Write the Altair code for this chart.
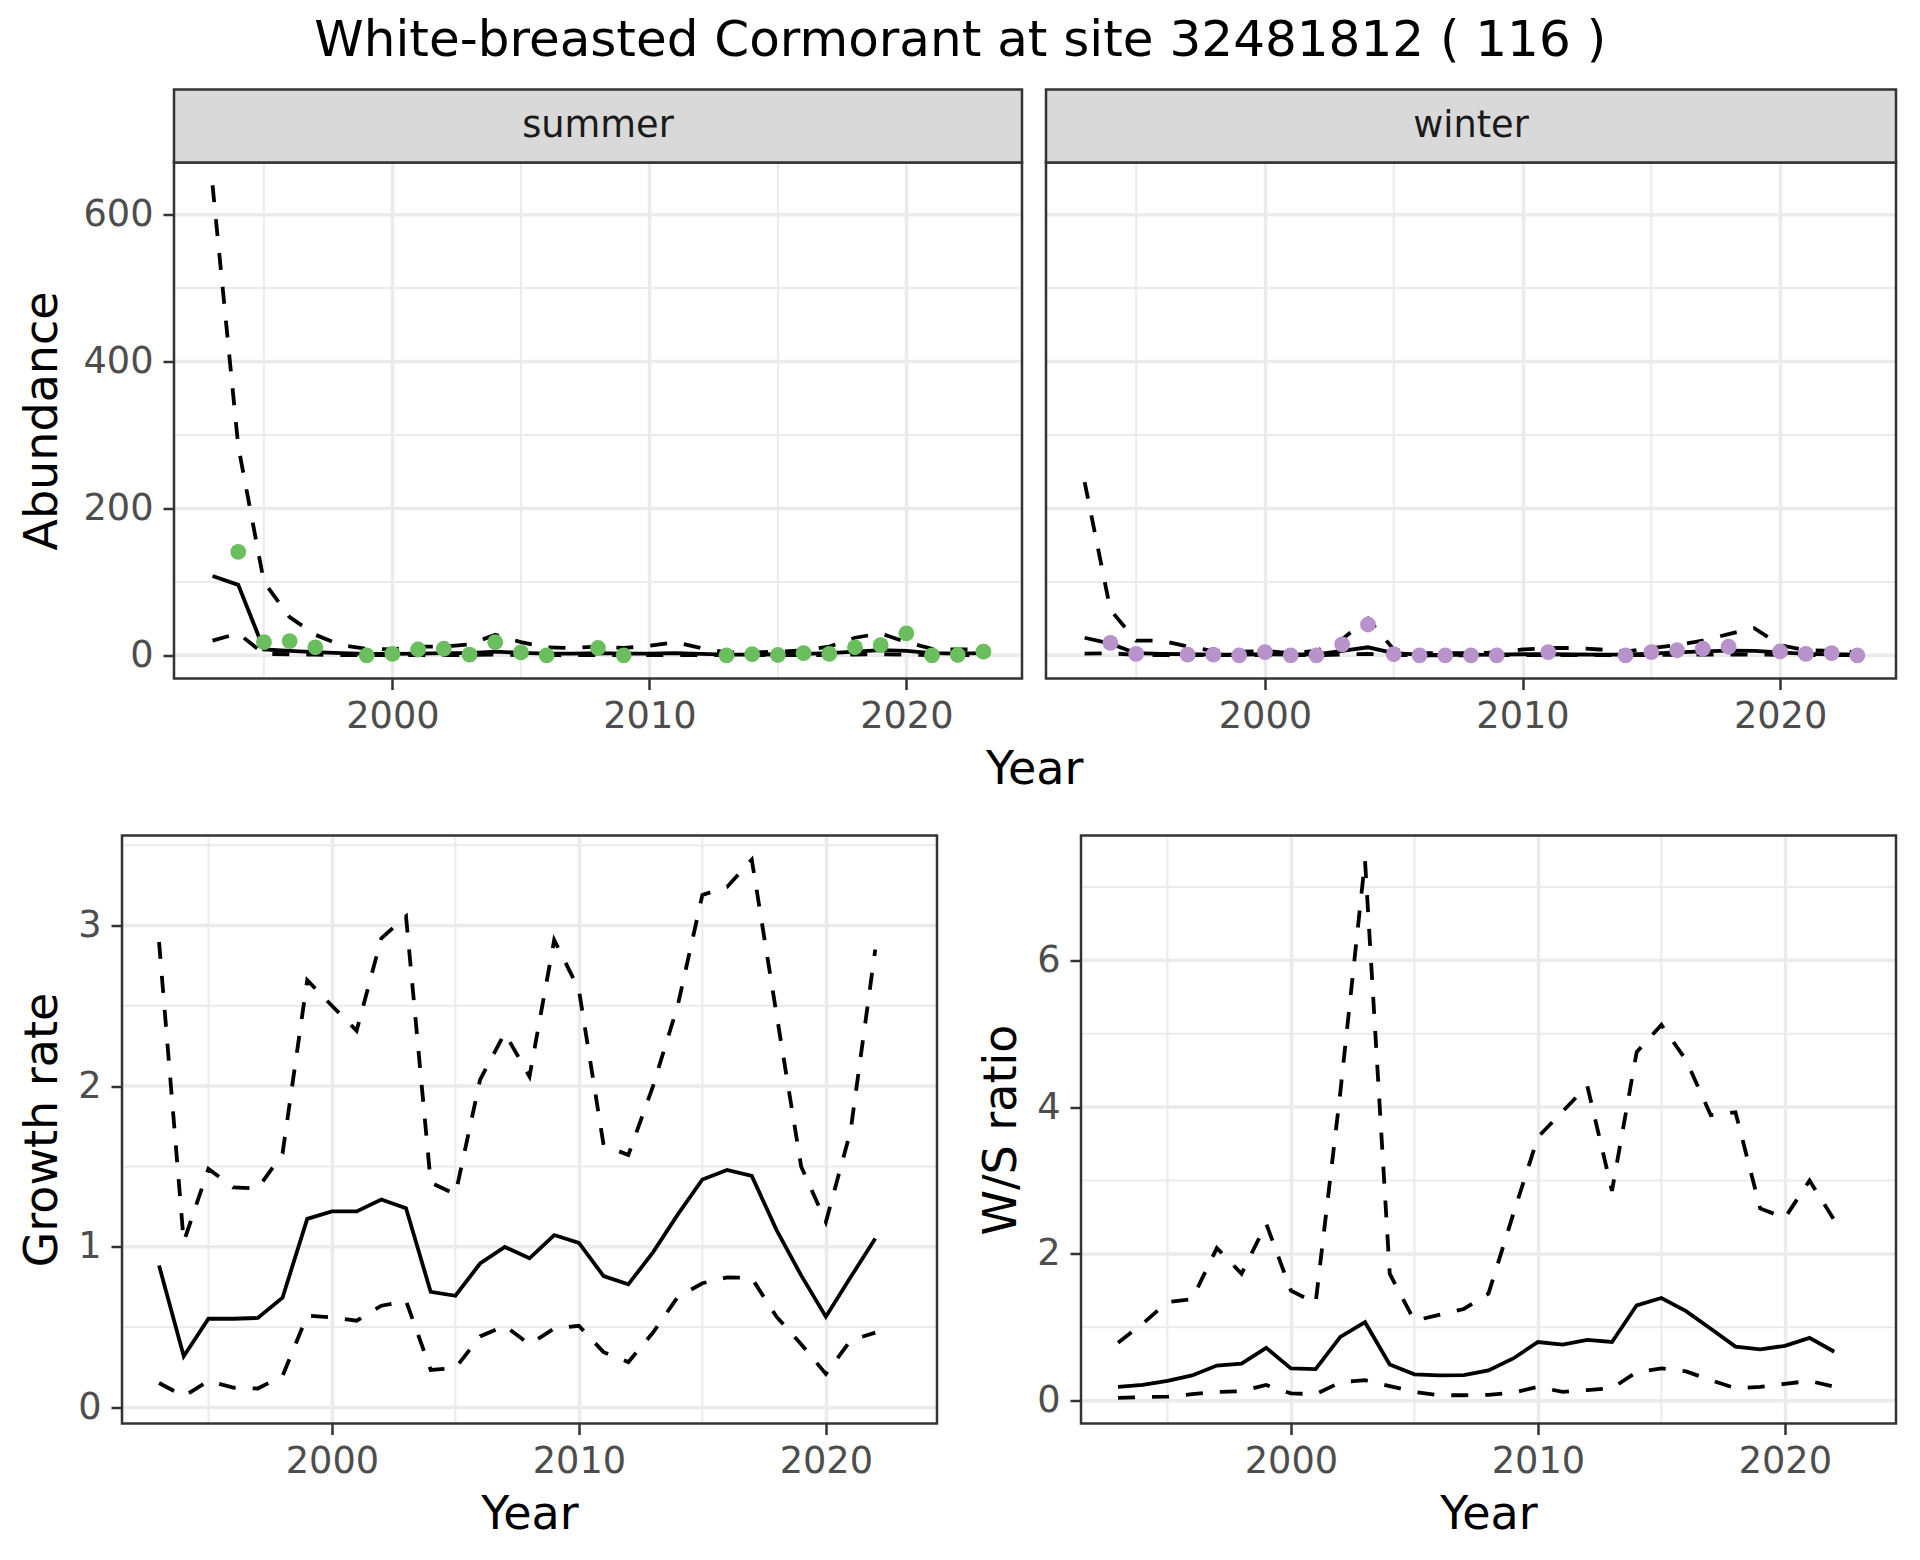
import altair as alt
import pandas as pd

FONT = "DejaVu Sans"

# ---------------- data ----------------
years = list(range(1993, 2024))
summer_est = [108, 96, 8, 6, 4.5, 3, 2, 2, 2.5, 3, 3, 5, 3.5, 2.5, 2.5, 3, 2.5, 2.5, 3, 2,
              1, 1, 1.5, 2, 3, 5, 7, 6, 3, 2.5, 3]
summer_lcl = [20, 30, 2, 1.5, 1, 0.5, 0.5, 0.5, 0.5, 0.5, 0.5, 1, 0.5, 0.3, 0.3, 0.5, 0.3, 0.3, 0.5, 0.3,
              0.2, 0.2, 0.3, 0.3, 0.5, 1, 1.5, 1, 0.5, 0.3, 0.5]
summer_ucl = [640, 285, 100, 52, 28, 14, 9, 8, 12, 12, 15, 28, 18, 11, 10, 12, 10, 13, 18, 10,
              4, 4, 5, 7, 12, 24, 30, 18, 9, 8, 8]
summer_obs_years = [1994, 1995, 1996, 1997, 1999, 2000, 2001, 2002, 2003, 2004, 2005, 2006, 2008,
                    2009, 2013, 2014, 2015, 2016, 2017, 2018, 2019, 2020, 2021, 2022, 2023]
summer_obs = [141, 18, 19.5, 11, 0, 2, 8, 9, 1, 18, 4, 0, 10, 0, 0, 1.5, 0.5, 3, 2, 11, 14, 30, 0, 0.5, 5]

winter_est = [24, 16, 3, 2, 1.5, 1, 1, 1.5, 1, 1.5, 6, 11, 3, 1, 0.8, 0.8, 1, 1.5, 1.5, 1.2,
              1, 1, 2.5, 4, 5.5, 6.5, 6, 4, 2, 1.5, 1]
winter_lcl = [2.5, 3, 0.5, 0.3, 0.2, 0.2, 0.2, 0.3, 0.2, 0.3, 1, 2, 0.5, 0.2, 0.1, 0.1, 0.2, 0.3, 0.3, 0.2,
              0.2, 0.2, 0.5, 0.8, 1, 1.2, 1, 0.8, 0.4, 0.3, 0.2]
winter_ucl = [236, 62, 20, 20, 12, 6, 5, 6, 3, 6, 22, 50, 8, 3, 3, 3, 4, 8, 10, 10,
              8, 5, 10, 14, 20, 29, 37, 14, 7, 6, 4]
winter_obs_years = [1994, 1995, 1997, 1998, 1999, 2000, 2001, 2002, 2003, 2004, 2005, 2006, 2007,
                    2008, 2009, 2011, 2014, 2015, 2016, 2017, 2018, 2020, 2021, 2022, 2023]
winter_obs = [17, 2, 1, 1, 0, 4.5, 0, 0, 15, 42, 1.5, 0, 0, 0, 0, 4.5, 0, 4.5, 7, 9, 11.7, 5.3, 2, 3, 0]

gr_years = list(range(1993, 2023))
growth_est = [0.884, 0.319, 0.552, 0.552, 0.557, 0.683, 1.174, 1.22, 1.22, 1.294, 1.24, 0.719,
              0.695, 0.896, 0.999, 0.928, 1.073, 1.024, 0.818, 0.766, 0.965, 1.20, 1.419, 1.478,
              1.441, 1.105, 0.822, 0.565, 0.81, 1.051]
growth_lcl = [0.152, 0.07, 0.164, 0.123, 0.118, 0.196, 0.572, 0.56, 0.54, 0.633, 0.663, 0.233,
              0.245, 0.442, 0.508, 0.393, 0.491, 0.508, 0.344, 0.282, 0.466, 0.687, 0.773, 0.81,
              0.805, 0.565, 0.393, 0.209, 0.417, 0.466]
growth_ucl = [2.897, 1.031, 1.485, 1.37, 1.363, 1.58, 2.66, 2.50, 2.345, 2.92, 3.057, 1.40,
              1.326, 2.04, 2.33, 2.06, 2.91, 2.60, 1.633, 1.571, 2.0, 2.50, 3.19, 3.24,
              3.41, 2.45, 1.50, 1.154, 1.72, 2.85]

ws_est = [0.19, 0.215, 0.27, 0.345, 0.48, 0.506, 0.72, 0.44, 0.43, 0.87, 1.07, 0.495, 0.36,
          0.345, 0.35, 0.414, 0.576, 0.80, 0.764, 0.83, 0.80, 1.30, 1.40, 1.22, 0.98, 0.737,
          0.70, 0.748, 0.856, 0.667]
ws_lcl = [0.04, 0.05, 0.055, 0.09, 0.12, 0.13, 0.215, 0.1, 0.09, 0.25, 0.28, 0.2, 0.12, 0.075,
          0.075, 0.08, 0.11, 0.19, 0.12, 0.145, 0.17, 0.39, 0.44, 0.40, 0.28, 0.17, 0.19, 0.23,
          0.27, 0.19]
ws_ucl = [0.79, 1.05, 1.345, 1.383, 2.08, 1.73, 2.41, 1.5, 1.33, 4.2, 7.36, 1.73, 1.09, 1.17,
          1.25, 1.46, 2.54, 3.59, 3.94, 4.29, 2.86, 4.75, 5.12, 4.64, 3.89, 3.93, 2.62, 2.49,
          3.0, 2.46]

x_major = [2000, 2010, 2020]
x_minor = [1995, 2005, 2015]
abund_major = [0, 200, 400, 600]
abund_minor = [100, 300, 500]
growth_major = [0, 1, 2, 3]
growth_minor = [0.5, 1.5, 2.5, 3.5]
ws_major = [0, 2, 4, 6]
ws_minor = [1, 3, 5, 7]

GREEN = "#6BBE5E"
PURPLE = "#B792CB"
BORDER = "#333333"
GRID = "#EBEBEB"


def long_df(yrs, est, lcl, ucl):
    rows = []
    for k, vals in (("est", est), ("lcl", lcl), ("ucl", ucl)):
        for y, v in zip(yrs, vals):
            rows.append({"Year": y, "value": v, "kind": k})
    return pd.DataFrame(rows)


def panel(df, pts, color, ydomain, ymajor, yminor, ytitle, xtitle, w, h,
          ylabels=True, ytitlepad=11, strip=None, lead=0):
    # lead: blank pixels to the left of the panel inside the view (used to offset the panel)
    xscale = alt.Scale(domain=[1991.5, 2024.5], nice=False, zero=False, range=[lead, lead + w])
    yscale = alt.Scale(domain=ydomain, nice=False, zero=False)
    if ylabels:
        yaxis = alt.Axis(values=ymajor, title=ytitle, titlePadding=ytitlepad, grid=False,
                         offset=-lead, format="d" if max(ymajor) >= 10 else "~g")
    else:
        yaxis = alt.Axis(values=ymajor, title=None, labels=False, ticks=False, grid=False)
    xaxis = alt.Axis(values=x_major, title=xtitle, format="d", grid=True, titlePadding=12)

    one = pd.DataFrame({"label": [strip if strip else ""]})
    layers = []
    # horizontal grid (minor, major) limited to the panel
    layers.append(
        alt.Chart(pd.DataFrame({"v": yminor})).mark_rule(color=GRID, strokeWidth=2)
        .encode(y=alt.Y("v:Q", scale=yscale, axis=yaxis), x=alt.value(lead), x2=alt.value(lead + w))
    )
    layers.append(
        alt.Chart(pd.DataFrame({"v": ymajor})).mark_rule(color=GRID, strokeWidth=3.5)
        .encode(y=alt.Y("v:Q", scale=yscale, axis=yaxis), x=alt.value(lead), x2=alt.value(lead + w))
    )
    # vertical minor grid
    layers.append(
        alt.Chart(pd.DataFrame({"v": x_minor})).mark_rule(color=GRID, strokeWidth=2)
        .encode(x=alt.X("v:Q", scale=xscale, axis=xaxis))
    )
    base = alt.Chart(df).encode(
        x=alt.X("Year:Q", scale=xscale, axis=xaxis),
        y=alt.Y("value:Q", scale=yscale, axis=yaxis),
    )
    layers.append(base.transform_filter("datum.kind != 'est'")
                  .mark_line(color="black", strokeWidth=3.8, strokeDash=[17, 17])
                  .encode(detail="kind:N"))
    layers.append(base.transform_filter("datum.kind == 'est'")
                  .mark_line(color="black", strokeWidth=3.8))
    if pts is not None:
        layers.append(
            alt.Chart(pts).mark_circle(size=250, opacity=1, color=color)
            .encode(x=alt.X("Year:Q", scale=xscale, axis=xaxis),
                    y=alt.Y("value:Q", scale=yscale, axis=yaxis))
        )
    # panel border
    layers.append(
        alt.Chart(one).mark_rect(fillOpacity=0, stroke=BORDER, strokeWidth=2.5)
        .encode(x=alt.value(lead), x2=alt.value(lead + w), y=alt.value(0), y2=alt.value(h))
    )
    if strip is not None:
        layers.append(
            alt.Chart(one).mark_rect(fill="#D9D9D9", stroke=BORDER, strokeWidth=2.5)
            .encode(x=alt.value(lead), x2=alt.value(lead + w), y=alt.value(-73), y2=alt.value(0))
        )
        layers.append(
            alt.Chart(one).mark_text(font=FONT, fontSize=36.7, color="#1A1A1A",
                                     align="center", baseline="middle")
            .encode(x=alt.value(lead + w / 2), y=alt.value(-36.5), text="label:N")
        )
    return alt.layer(*layers).properties(width=lead + w, height=h)


summer_df = long_df(years, summer_est, summer_lcl, summer_ucl)
winter_df = long_df(years, winter_est, winter_lcl, winter_ucl)
summer_pts = pd.DataFrame({"Year": summer_obs_years, "value": summer_obs})
winter_pts = pd.DataFrame({"Year": winter_obs_years, "value": winter_obs})
growth_df = long_df(gr_years, growth_est, growth_lcl, growth_ucl)
ws_df = long_df(gr_years, ws_est, ws_lcl, ws_ucl)

summer = panel(summer_df, summer_pts, GREEN, [-31.5, 671], abund_major, abund_minor,
               "Abundance", None, 848, 516, ytitlepad=16.3, strip="summer", lead=52)
winter = panel(winter_df, winter_pts, PURPLE, [-31.5, 671], abund_major, abund_minor,
               None, None, 850, 516, ylabels=False, strip="winter")
growth = panel(growth_df, None, None, [-0.1, 3.56], growth_major, growth_minor,
               "Growth rate", "Year", 815, 588)
ws = panel(ws_df, None, None, [-0.31, 7.70], ws_major, ws_minor,
           "W/S ratio", "Year", 815, 588)

top = alt.hconcat(summer, winter, spacing=20).properties(
    title=alt.TitleParams(text="Year", orient="bottom", anchor="middle", fontSize=46,
                          font=FONT, fontWeight="normal", color="black", baseline="top",
                          offset=13, dx=76)
)
bottom = alt.hconcat(growth, ws, spacing=39)

chart = alt.vconcat(top, bottom, spacing=40).properties(
    title=alt.TitleParams(text="White-breasted Cormorant at site 32481812 ( 116 )",
                          fontSize=50, font=FONT, fontWeight="normal", color="black",
                          anchor="middle", baseline="alphabetic", offset=-17.3, dx=1.5),
    padding={"left": 11, "top": 7.5, "right": 5, "bottom": 10},
    background="white",
).configure_axis(
    labelFont=FONT, labelFontSize=36.7, labelColor="#4D4D4D",
    titleFont=FONT, titleFontSize=46, titleColor="black", titleFontWeight="normal",
    tickColor=BORDER, tickWidth=2.5, tickSize=11, domain=False,
    gridColor=GRID, gridWidth=3.5,
).configure_axisX(labelPadding=9).configure_axisY(labelPadding=10).configure_view(
    strokeWidth=0
)

chart.save("out.html", embed_options={"renderer": "svg", "actions": False})
